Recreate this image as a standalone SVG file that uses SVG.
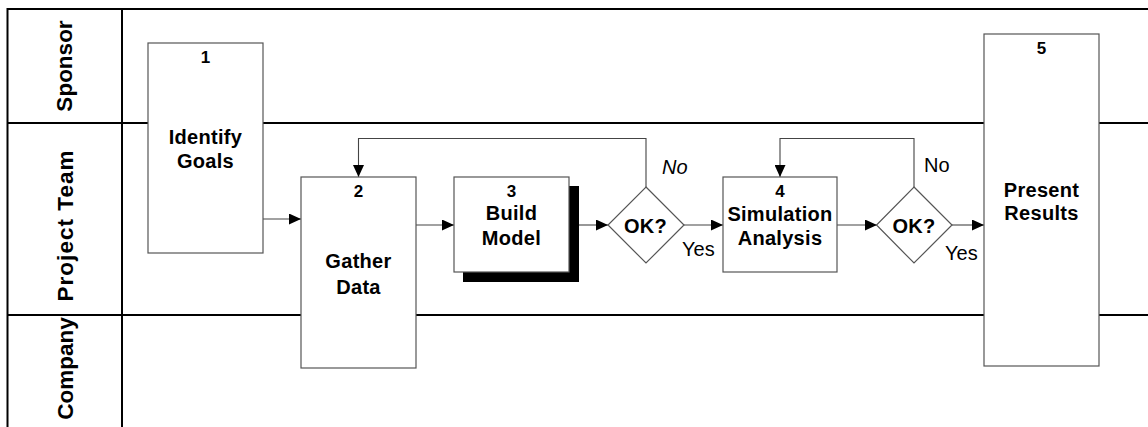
<svg xmlns="http://www.w3.org/2000/svg" width="1148" height="427" viewBox="0 0 1148 427">
<style>
.frame{stroke:#000;stroke-width:2;fill:none}
.box{fill:#fff;stroke:#555;stroke-width:1.2}
.conn{fill:none;stroke:#444;stroke-width:1.1}
.lane{font-family:"Liberation Sans",Arial,sans-serif;font-weight:bold;font-size:22.5px;fill:#000}
.lbl{font-family:"Liberation Sans",Arial,sans-serif;font-weight:bold;font-size:20px;fill:#000;text-anchor:middle;letter-spacing:0.3px}
.num{font-family:"Liberation Sans",Arial,sans-serif;font-weight:bold;font-size:17px;fill:#000;text-anchor:middle}
.ed{font-family:"Liberation Sans",Arial,sans-serif;font-size:20px;fill:#000}
</style>
<defs>
<marker id="arr" viewBox="0 0 12 11" refX="12" refY="5.5" markerWidth="12" markerHeight="11" markerUnits="userSpaceOnUse" orient="auto">
<path d="M0,0 L12,5.5 L0,11 Z" fill="#000"/>
</marker>
</defs>
<rect width="1148" height="427" fill="#fff"/>
<g id="lanes">
<path class="frame" d="M7.5,427 V9 H1148 M122,9 V427 M7.5,123 H1148 M7.5,315 H1148"/>
<text class="lane" transform="translate(72,66) rotate(-90)" text-anchor="middle">Sponsor</text>
<text class="lane" transform="translate(73,226) rotate(-90)" text-anchor="middle" textLength="151" lengthAdjust="spacing">Project Team</text>
<text class="lane" transform="translate(73,368.5) rotate(-90)" text-anchor="middle">Company</text>
</g>
<g id="connectors">
<path class="conn" d="M263,219 H301" marker-end="url(#arr)"/>
<path class="conn" d="M416,225 H454" marker-end="url(#arr)"/>
<path class="conn" d="M579,225 H608" marker-end="url(#arr)"/>
<path class="conn" d="M684,225 H723" marker-end="url(#arr)"/>
<path class="conn" d="M646,187 V138.5 H358.5 V177" marker-end="url(#arr)"/>
<path class="conn" d="M837,225 H877" marker-end="url(#arr)"/>
<path class="conn" d="M952,225 H984" marker-end="url(#arr)"/>
<path class="conn" d="M914,187 V138.5 H780 V177" marker-end="url(#arr)"/>
<text class="ed" x="662" y="174" font-style="italic">No</text>
<text class="ed" x="682" y="256">Yes</text>
<text class="ed" x="924" y="172">No</text>
<text class="ed" x="945" y="260">Yes</text>
</g>
<g id="n1">
<rect class="box" x="148" y="43" width="115" height="210"/>
<text class="num" x="205.5" y="62.5">1</text>
<text class="lbl" x="205.5" y="144">Identify</text>
<text class="lbl" x="205.5" y="168">Goals</text>
</g>
<g id="n2">
<rect class="box" x="301" y="177" width="115" height="191"/>
<text class="num" x="358.5" y="196.5">2</text>
<text class="lbl" x="358.5" y="268">Gather</text>
<text class="lbl" x="358.5" y="294">Data</text>
</g>
<g id="n3">
<rect x="463" y="186" width="116" height="96" fill="#000"/>
<rect class="box" x="454" y="177" width="115" height="95"/>
<text class="num" x="511.5" y="196.5" font-size="18">3</text>
<text class="lbl" x="511.5" y="219.5">Build</text>
<text class="lbl" x="511.5" y="245">Model</text>
</g>
<g id="d1">
<path class="box" d="M646,187 L684,225 L646,263 L608,225 Z"/>
<text class="lbl" x="645.5" y="232.5">OK?</text>
</g>
<g id="n4">
<rect class="box" x="723" y="177" width="114" height="95"/>
<text class="num" x="780" y="196.5" font-size="18">4</text>
<text class="lbl" x="780" y="221">Simulation</text>
<text class="lbl" x="780" y="245">Analysis</text>
</g>
<g id="d2">
<path class="box" d="M914,187 L952,225 L914,263 L876.5,225 Z"/>
<text class="lbl" x="914" y="232.5">OK?</text>
</g>
<g id="n5">
<rect class="box" x="984" y="34" width="115" height="332"/>
<text class="num" x="1041.5" y="53.5">5</text>
<text class="lbl" x="1041.5" y="196.5">Present</text>
<text class="lbl" x="1041.5" y="220">Results</text>
</g>
</svg>
